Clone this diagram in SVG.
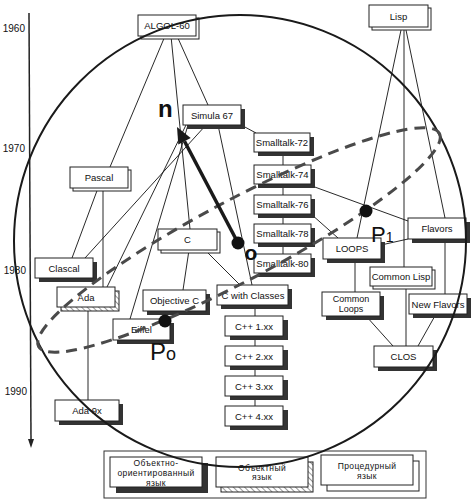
<svg xmlns="http://www.w3.org/2000/svg" width="476" height="503" viewBox="0 0 476 503">
<defs>
<pattern id="hatch" width="4" height="4" patternUnits="userSpaceOnUse" patternTransform="rotate(-45)">
<rect width="4" height="4" fill="#fff"/>
<line x1="0" y1="0" x2="0" y2="4" stroke="#333" stroke-width="1"/>
</pattern>
<style>
.box{fill:#fff;stroke:#222;stroke-width:1}
.sh{fill:#333}
.off{fill:#fff;stroke:#222;stroke-width:1}
.hat{fill:url(#hatch);stroke:#222;stroke-width:1}
.ln{stroke:#111;stroke-width:0.9;fill:none}
text{font-family:"Liberation Sans",Arial,sans-serif;fill:#111}
.t{font-size:9.5px;text-anchor:middle}
.lg{font-size:8.5px;text-anchor:middle;letter-spacing:0.4px}
.yr{font-size:10px;text-anchor:end}
</style>
</defs>
<rect width="476" height="503" fill="#fff"/>

<g id="timeline">
<line x1="29" y1="13" x2="31" y2="441" stroke="#222" stroke-width="1.5"/>
<polygon points="31,448 28,439 34,439" fill="#222"/>
<text class="yr" x="25" y="32">1960</text>
<text class="yr" x="25" y="152">1970</text>
<text class="yr" x="26" y="274">1980</text>
<text class="yr" x="27" y="395">1990</text>
</g>

<g id="connectors">
<line class="ln" x1="165" y1="36" x2="110" y2="167"/>
<line class="ln" x1="171" y1="36" x2="190" y2="229"/>
<line class="ln" x1="177" y1="36" x2="208" y2="105"/>
<line class="ln" x1="98" y1="188" x2="72" y2="258"/>
<line class="ln" x1="103" y1="188" x2="103" y2="287"/>
<line class="ln" x1="206" y1="125" x2="85" y2="258"/>
<line class="ln" x1="186" y1="125" x2="107" y2="287"/>
<line class="ln" x1="188" y1="125" x2="130" y2="319"/>
<line class="ln" x1="218" y1="125" x2="252" y2="285"/>
<line class="ln" x1="243" y1="126" x2="256" y2="133"/>
<line class="ln" x1="283" y1="152" x2="283" y2="165"/>
<line class="ln" x1="283" y1="184" x2="283" y2="195"/>
<line class="ln" x1="283" y1="214" x2="283" y2="224"/>
<line class="ln" x1="283" y1="243" x2="283" y2="254"/>
<line class="ln" x1="312" y1="186" x2="408" y2="221"/>
<line class="ln" x1="311" y1="214" x2="338" y2="238"/>
<line class="ln" x1="401" y1="30" x2="357" y2="238"/>
<line class="ln" x1="404" y1="30" x2="404" y2="267"/>
<line class="ln" x1="406" y1="30" x2="445" y2="218"/>
<line class="ln" x1="408" y1="239" x2="381" y2="245"/>
<line class="ln" x1="355" y1="259" x2="355" y2="292"/>
<line class="ln" x1="445" y1="239" x2="445" y2="294"/>
<line class="ln" x1="366" y1="316" x2="393" y2="346"/>
<line class="ln" x1="406" y1="286" x2="406" y2="346"/>
<line class="ln" x1="436" y1="314" x2="418" y2="346"/>
<line class="ln" x1="189" y1="250" x2="183" y2="290"/>
<line class="ln" x1="205" y1="250" x2="240" y2="285"/>
<line class="ln" x1="255" y1="305" x2="255" y2="316"/>
<line class="ln" x1="255" y1="336" x2="255" y2="346"/>
<line class="ln" x1="255" y1="366" x2="255" y2="376"/>
<line class="ln" x1="255" y1="396" x2="255" y2="406"/>
<line class="ln" x1="88" y1="307" x2="88" y2="400"/>
</g>

<g id="algol60"><rect class="off" x="141" y="18" width="58" height="21"/><rect class="box" x="138" y="15" width="58" height="21"/><text class="t" x="167" y="29">ALGOL-60</text></g>
<g id="lisp"><rect class="off" x="372" y="8" width="59" height="22"/><rect class="box" x="369" y="5" width="59" height="22"/><text class="t" x="398.5" y="20">Lisp</text></g>
<g id="simula67"><rect class="sh" x="187" y="109" width="58" height="20"/><rect class="box" x="183" y="105" width="58" height="20"/><text class="t" x="212" y="119">Simula 67</text></g>
<g id="smalltalk72"><rect class="sh" x="258" y="137" width="56" height="19" fill="#555"/><rect class="box" x="254" y="133" width="56" height="19"/><text class="t" x="282" y="146">Smalltalk-72</text></g>
<g id="smalltalk74"><rect class="sh" x="258" y="169" width="57" height="19"/><rect class="box" x="254" y="165" width="57" height="19"/><text class="t" x="282.5" y="178">Smalltalk-74</text></g>
<g id="smalltalk76"><rect class="sh" x="258" y="199" width="57" height="19"/><rect class="box" x="254" y="195" width="57" height="19"/><text class="t" x="282.5" y="208">Smalltalk-76</text></g>
<g id="smalltalk78"><rect class="sh" x="258" y="228" width="57" height="19"/><rect class="box" x="254" y="224" width="57" height="19"/><text class="t" x="282.5" y="237">Smalltalk-78</text></g>
<g id="smalltalk80"><rect class="sh" x="258" y="258" width="57" height="19"/><rect class="box" x="254" y="254" width="57" height="19"/><text class="t" x="282.5" y="267">Smalltalk-80</text></g>
<g id="pascal"><rect class="off" x="73" y="170" width="58" height="21"/><rect class="box" x="70" y="167" width="58" height="21"/><text class="t" x="99" y="181">Pascal</text></g>
<g id="clascal"><rect class="sh" x="39" y="262" width="58" height="20"/><rect class="box" x="35" y="258" width="58" height="20"/><text class="t" x="64" y="272">Clascal</text></g>
<g id="ada"><rect class="hat" x="61" y="291" width="58" height="20"/><rect class="box" x="57" y="287" width="58" height="20"/><text class="t" x="86" y="301">Ada</text></g>
<g id="c"><rect class="off" x="161" y="232" width="59" height="21"/><rect class="box" x="158" y="229" width="59" height="21"/><text class="t" x="187.5" y="243">C</text></g>
<g id="objectivec"><rect class="sh" x="147" y="294" width="63" height="21"/><rect class="box" x="143" y="290" width="63" height="21"/><text class="t" x="174.5" y="304">Objective C</text></g>
<g id="eiffel"><rect class="sh" x="117" y="323" width="57" height="21"/><rect class="box" x="113" y="319" width="57" height="21"/><text class="t" x="141.5" y="333">Eiffel</text></g>
<g id="cwithclasses"><rect class="sh" x="221" y="289" width="71" height="20"/><rect class="box" x="217" y="285" width="71" height="20"/><text class="t" x="253" y="299">C with Classes</text></g>
<g id="cpp1"><rect class="sh" x="230" y="320" width="58" height="20"/><rect class="box" x="225" y="316" width="58" height="20"/><text class="t" x="254" y="330">C++ 1.xx</text></g>
<g id="cpp2"><rect class="sh" x="230" y="350" width="58" height="20"/><rect class="box" x="225" y="346" width="58" height="20"/><text class="t" x="254" y="360">C++ 2.xx</text></g>
<g id="cpp3"><rect class="sh" x="230" y="380" width="58" height="20"/><rect class="box" x="225" y="376" width="58" height="20"/><text class="t" x="254" y="390">C++ 3.xx</text></g>
<g id="cpp4"><rect class="sh" x="230" y="410" width="58" height="20"/><rect class="box" x="225" y="406" width="58" height="20"/><text class="t" x="254" y="420">C++ 4.xx</text></g>
<g id="loops"><rect class="sh" x="327" y="242" width="58" height="21"/><rect class="box" x="323" y="238" width="58" height="21"/><text class="t" x="352" y="252">LOOPS</text></g>
<g id="flavors"><rect class="sh" x="412" y="222" width="58" height="21"/><rect class="box" x="408" y="218" width="58" height="21"/><text class="t" x="437" y="232">Flavors</text></g>
<g id="commonlisp"><rect class="off" x="373" y="270" width="62" height="19"/><rect class="box" x="370" y="267" width="62" height="19"/><text class="t" x="401" y="280">Common Lisp</text></g>
<g id="commonloops"><rect class="sh" x="326" y="296" width="58" height="24"/><rect class="box" x="322" y="292" width="58" height="24"/><text class="t" x="351" y="301.5" style="font-size:9px">Common</text><text class="t" x="351" y="312" style="font-size:9px">Loops</text></g>
<g id="newflavors"><rect class="sh" x="413" y="298" width="58" height="20"/><rect class="box" x="409" y="294" width="58" height="20"/><text class="t" x="438" y="308">New Flavors</text></g>
<g id="clos"><rect class="sh" x="378" y="350" width="59" height="21"/><rect class="box" x="374" y="346" width="59" height="21"/><text class="t" x="403.5" y="360">CLOS</text></g>
<g id="ada9x"><rect class="sh" x="59" y="404" width="64" height="21"/><rect class="box" x="55" y="400" width="64" height="21"/><text class="t" x="87" y="414">Ada 9x</text></g>

<g id="legend">
<rect x="104" y="451" width="322" height="47" fill="none" stroke="#333" stroke-width="1"/>
<rect class="sh" x="116" y="463" width="92" height="30"/>
<rect class="box" x="110" y="457" width="92" height="30"/>
<text class="lg" x="156" y="466">Объектно-</text>
<text class="lg" x="156" y="475.9">ориентированный</text>
<text class="lg" x="156" y="485.8">язык</text>
<rect class="hat" x="221" y="462" width="92" height="30"/>
<rect class="box" x="216" y="457" width="92" height="30"/>
<text class="lg" x="262" y="470.5">Объектный</text>
<text class="lg" x="262" y="480.4">язык</text>
<rect class="off" x="327" y="461" width="92" height="30"/>
<rect class="box" x="321" y="455" width="92" height="30"/>
<text class="lg" x="367" y="469">Процедурный</text>
<text class="lg" x="367" y="478.9">язык</text>
</g>

<g id="overlay">
<circle cx="240" cy="241" r="226" fill="none" stroke="#1a1a1a" stroke-width="2"/>
<ellipse cx="239" cy="240" rx="227" ry="40" transform="rotate(-28 239 240)" fill="none" stroke="#4a4a4a" stroke-width="3" stroke-dasharray="11 7"/>
<line x1="238" y1="243" x2="184.5" y2="141.2" stroke="#1a1a1a" stroke-width="3.5"/>
<polygon points="177,127 190.7,137.9 178.3,144.5" fill="#1a1a1a"/>
<circle cx="238" cy="243" r="6.5" fill="#111"/>
<circle cx="165" cy="321" r="6.5" fill="#111"/>
<circle cx="366" cy="211" r="6.5" fill="#111"/>
<text x="158" y="117" font-size="24" font-weight="bold">n</text>
<text x="244.5" y="260" font-size="21" font-weight="bold">o</text>
<text x="150" y="360" font-size="24">P<tspan font-size="18">o</tspan></text>
<text x="371" y="242" font-size="22">P<tspan font-size="14">1</tspan></text>
</g>
</svg>
